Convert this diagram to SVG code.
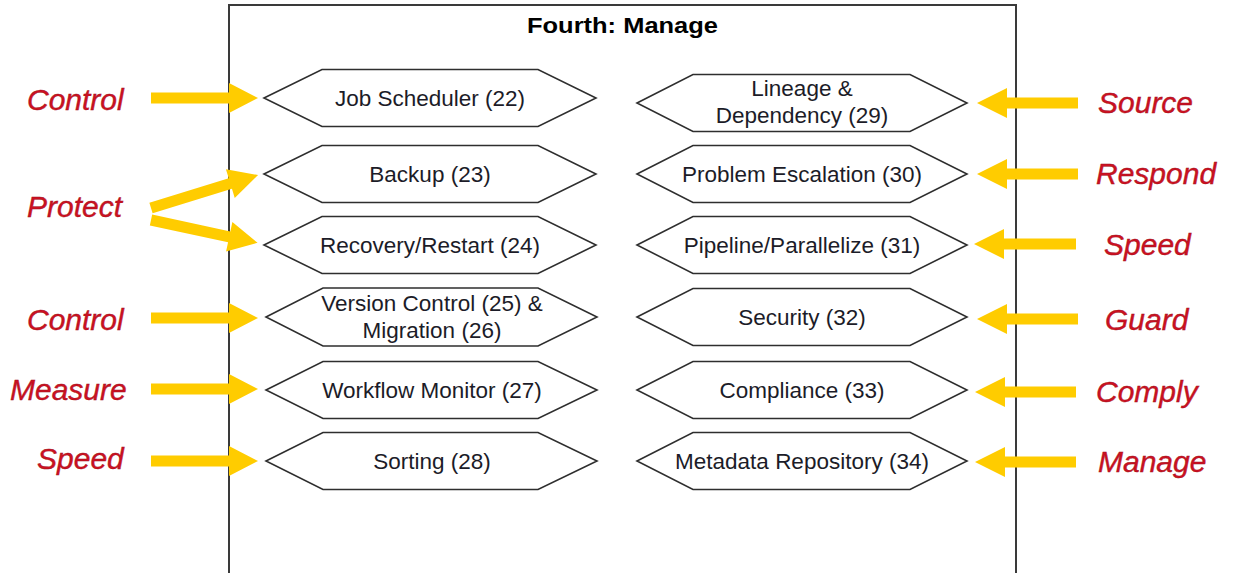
<svg xmlns="http://www.w3.org/2000/svg" width="1234" height="573" viewBox="0 0 1234 573">
<style>
.frame{fill:none;stroke:#3a3a3a;stroke-width:2}
.hex{fill:#ffffff;stroke:#2e2e2e;stroke-width:1.6}
.ntext{font-family:"Liberation Sans",Arial,sans-serif;font-size:22.5px;fill:#1c1c28;text-anchor:middle}
.title{font-family:"Liberation Sans",Arial,sans-serif;font-size:22px;font-weight:bold;fill:#000;text-anchor:middle}
.lbl{font-family:"Liberation Sans",Arial,sans-serif;font-size:30px;font-style:italic;fill:#CC1122;stroke:#a0101c;stroke-width:0.4}
.arrow{fill:#FFCC00;stroke:none}
</style>
<rect x="0" y="0" width="1234" height="573" fill="#ffffff"/>
<g id="frame">
<polyline class="frame" points="229,573 229,5 1016,5 1016,573"/>
<text class="title" x="622.5" y="33" textLength="191" lengthAdjust="spacingAndGlyphs">Fourth: Manage</text>
</g>

<g id="n22"><polygon class="hex" points="264,98 322,69.5 538,69.5 596,98 538,126.5 322,126.5"/><text class="ntext" x="430" y="106">Job Scheduler (22)</text></g>
<g id="n23"><polygon class="hex" points="264,174 322,145.5 538,145.5 596,174 538,202.5 322,202.5"/><text class="ntext" x="430" y="182">Backup (23)</text></g>
<g id="n24"><polygon class="hex" points="264,245 322,216.5 538,216.5 596,245 538,273.5 322,273.5"/><text class="ntext" x="430" y="253">Recovery/Restart (24)</text></g>
<g id="n25"><polygon class="hex" points="266,317 323,288 538,288 597,317 538,346 323,346"/><text class="ntext" x="432" y="311">Version Control (25) &amp;</text><text class="ntext" x="432" y="338">Migration (26)</text></g>
<g id="n27"><polygon class="hex" points="266,390 323,361.5 538,361.5 597,390 538,418.5 323,418.5"/><text class="ntext" x="432" y="398">Workflow Monitor (27)</text></g>
<g id="n28"><polygon class="hex" points="266,461 323,432.5 538,432.5 597,461 538,489.5 323,489.5"/><text class="ntext" x="432" y="469">Sorting (28)</text></g>

<g id="n29"><polygon class="hex" points="637,103 693,74.5 910,74.5 967,103 910,131.5 693,131.5"/><text class="ntext" x="802" y="96">Lineage &amp;</text><text class="ntext" x="802" y="123">Dependency (29)</text></g>
<g id="n30"><polygon class="hex" points="637,174 693,145.5 910,145.5 967,174 910,202.5 693,202.5"/><text class="ntext" x="802" y="182">Problem Escalation (30)</text></g>
<g id="n31"><polygon class="hex" points="637,245 693,216.5 910,216.5 967,245 910,273.5 693,273.5"/><text class="ntext" x="802" y="253">Pipeline/Parallelize (31)</text></g>
<g id="n32"><polygon class="hex" points="637,317 693,288.5 910,288.5 967,317 910,345.5 693,345.5"/><text class="ntext" x="802" y="325">Security (32)</text></g>
<g id="n33"><polygon class="hex" points="637,390 693,361.5 910,361.5 967,390 910,418.5 693,418.5"/><text class="ntext" x="802" y="398">Compliance (33)</text></g>
<g id="n34"><polygon class="hex" points="637,461 693,432.5 910,432.5 967,461 910,489.5 693,489.5"/><text class="ntext" x="802" y="469">Metadata Repository (34)</text></g>

<g id="connectors">
<polygon class="arrow" points="151,92.5 229,92.5 229,83 258,98 229,113 229,103.5 151,103.5"/>
<g transform="translate(151,208) rotate(-17.1)"><polygon class="arrow" points="0,-5.5 83,-5.5 83,-15 112,0 83,15 83,5.5 0,5.5"/></g>
<g transform="translate(151,220) rotate(12.1)"><polygon class="arrow" points="0,-5.5 80,-5.5 80,-15 109,0 80,15 80,5.5 0,5.5"/></g>
<polygon class="arrow" points="151,312.5 229,312.5 229,303 258,318 229,333 229,323.5 151,323.5"/>
<polygon class="arrow" points="151,383.5 229,383.5 229,374 258,389 229,404 229,394.5 151,394.5"/>
<polygon class="arrow" points="151,455.5 229,455.5 229,446 258,461 229,476 229,466.5 151,466.5"/>

<polygon class="arrow" points="1078,97.5 1007,97.5 1007,88 977,103 1007,118 1007,108.5 1078,108.5"/>
<polygon class="arrow" points="1078,168.5 1007,168.5 1007,159 977,174 1007,189 1007,179.5 1078,179.5"/>
<polygon class="arrow" points="1076,238.5 1004,238.5 1004,229 974,244 1004,259 1004,249.5 1076,249.5"/>
<polygon class="arrow" points="1078,313.5 1007,313.5 1007,304 977,319 1007,334 1007,324.5 1078,324.5"/>
<polygon class="arrow" points="1076,386.5 1005,386.5 1005,377 975,392 1005,407 1005,397.5 1076,397.5"/>
<polygon class="arrow" points="1076,456.5 1005,456.5 1005,447 975,462 1005,477 1005,467.5 1076,467.5"/>
</g>

<g id="labels">
<text class="lbl" x="27" y="110">Control</text>
<text class="lbl" x="27" y="217">Protect</text>
<text class="lbl" x="27" y="330">Control</text>
<text class="lbl" x="10" y="400">Measure</text>
<text class="lbl" x="37" y="469">Speed</text>
<text class="lbl" x="1098" y="113">Source</text>
<text class="lbl" x="1096" y="184">Respond</text>
<text class="lbl" x="1104" y="255">Speed</text>
<text class="lbl" x="1105" y="330">Guard</text>
<text class="lbl" x="1096" y="402">Comply</text>
<text class="lbl" x="1098" y="472">Manage</text>
</g>
</svg>
